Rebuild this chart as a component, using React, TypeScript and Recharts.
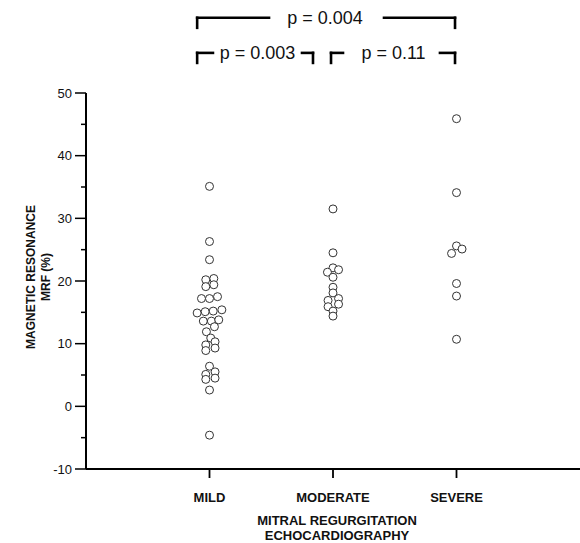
import React from "react";
import {
  ScatterChart,
  Scatter,
  XAxis,
  YAxis,
  ReferenceLine,
  ReferenceDot,
  Label,
} from "recharts";

const CATEGORIES = ["MILD", "MODERATE", "SEVERE"];
const Y_TICKS = [-10, -5, 0, 5, 10, 15, 20, 25, 30, 35, 40, 45, 50];

const MILD_VALUES = [
  35.1, 26.3, 23.4, 20.2, 19.1, 20.4, 19.4, 17.2, 17.2, 17.5, 14.9, 15.1, 15.2,
  15.4, 13.6, 13.6, 13.8, 12.7, 11.9, 10.9, 10.3, 9.8, 9.3, 8.9, 6.4, 5.5, 5.1,
  4.3, 4.5, 2.6, -4.6,
];
const MILD_JITTER = [
  0, 0, 0, -0.03, -0.03, 0.035, 0.035, -0.065, 0, 0.065, -0.1, -0.035, 0.03,
  0.1, -0.05, 0.015, 0.075, 0.04, -0.025, 0.01, 0.045, -0.03, 0.045, -0.03, 0,
  0.045, -0.03, -0.03, 0.045, 0, 0,
];
const MODERATE_VALUES = [
  31.5, 24.5, 22.1, 21.8, 21.4, 20.6, 19.0, 18.1, 17.2, 16.9, 16.3, 15.9, 15.2,
  14.4,
];
const MODERATE_JITTER = [
  0, 0, 0, 0.045, -0.045, 0, 0, 0, 0.045, -0.04, 0.045, -0.04, 0, 0,
];
const SEVERE_VALUES = [45.9, 34.1, 25.6, 25.1, 24.4, 19.6, 17.6, 10.7];
const SEVERE_JITTER = [0, 0, 0, 0.045, -0.04, 0, 0, 0];

const P_LABELS = ["p = 0.004", "p = 0.003", "p = 0.11"];

const BRACKETS = [
  { label: P_LABELS[0], from: 0.9, to: 2.988, gap: [1.482, 2.413], cx: 1.935, level: 62 },
  { label: P_LABELS[1], from: 0.9, to: 1.838, gap: [1.028, 1.749], cx: 1.389, level: 56.4 },
  { label: P_LABELS[2], from: 1.984, to: 2.988, gap: [2.081, 2.866], cx: 2.49, level: 56.4 },
];
const DROP = 1.6;

const groups = [
  { values: MILD_VALUES, jitter: MILD_JITTER },
  { values: MODERATE_VALUES, jitter: MODERATE_JITTER },
  { values: SEVERE_VALUES, jitter: SEVERE_JITTER },
];

const points = groups.flatMap((g, gi) =>
  g.values.map((v, i) => ({ x: gi + 1 + g.jitter[i], y: v }))
);

const FONT = "'Liberation Sans', Arial, sans-serif";

const YTick = (props: any) => {
  const { x, y, payload } = props;
  const major = payload.value % 10 === 0;
  return (
    <g>
      <line x1={x - (major ? 11 : 5)} x2={x} y1={y} y2={y} stroke="#000" strokeWidth={1.5} />
      {major && (
        <text x={x - 14} y={y} dy="0.35em" textAnchor="end" fontSize={13} fontFamily={FONT} fill="#111">
          {payload.value}
        </text>
      )}
    </g>
  );
};

const XTick = (props: any) => {
  const { x, y, payload } = props;
  return (
    <g>
      <line x1={x} x2={x} y1={y} y2={y + 9} stroke="#000" strokeWidth={1.8} />
      <text x={x} y={y + 33} textAnchor="middle" fontSize={13} fontWeight="bold" fontFamily={FONT} fill="#111">
        {CATEGORIES[payload.value - 1]}
      </text>
    </g>
  );
};

const XLabel = (props: any) => {
  const vb = props.viewBox || {};
  const cx = vb.x + vb.width / 2 + 4;
  const top = vb.y;
  return (
    <g>
      <text x={cx} y={top + 56} textAnchor="middle" fontSize={13} fontWeight="bold" fontFamily={FONT} fill="#111">
        MITRAL REGURGITATION
      </text>
      <text x={cx} y={top + 71} textAnchor="middle" fontSize={13} fontWeight="bold" fontFamily={FONT} fill="#111">
        ECHOCARDIOGRAPHY
      </text>
    </g>
  );
};

const YLabel = (props: any) => {
  const vb = props.viewBox || {};
  const cy = vb.y + vb.height / 2 - 4;
  const x1 = 31;
  const x2 = 46;
  return (
    <g>
      <text x={x1} y={cy} transform={`rotate(-90, ${x1}, ${cy})`} dy="0.35em" textAnchor="middle" fontSize={12} fontWeight="bold" fontFamily={FONT} fill="#111">
        MAGNETIC RESONANCE
      </text>
      <text x={x2} y={cy} transform={`rotate(-90, ${x2}, ${cy})`} dy="0.35em" textAnchor="middle" fontSize={12} fontWeight="bold" fontFamily={FONT} fill="#111">
        MRF (%)
      </text>
    </g>
  );
};

const Circle = (props: any) => {
  const { cx, cy } = props;
  return <circle cx={cx} cy={cy} r={4} fill="#fff" stroke="#333" strokeWidth={1} />;
};

export default function App() {
  const lineProps = { stroke: "#000", strokeWidth: 2.6, ifOverflow: "visible" as const, strokeLinecap: "square" as const };
  return (
    <div style={{ width: 580, height: 543 }}>
      <style>{"body{margin:0}"}</style>
      <ScatterChart width={580} height={543} margin={{ top: 93, right: 0, bottom: 0, left: 0 }}>
        <XAxis
          type="number"
          dataKey="x"
          domain={[0, 4]}
          ticks={[1, 2, 3]}
          interval={0}
          height={74}
          tickSize={0}
          tickMargin={0}
          tick={<XTick />}
          axisLine={{ stroke: "#000", strokeWidth: 2 }}
          tickLine={false}
        >
          <Label content={<XLabel />} />
        </XAxis>
        <YAxis
          type="number"
          dataKey="y"
          domain={[-10, 50]}
          ticks={Y_TICKS}
          interval={0}
          width={86}
          tickSize={0}
          tickMargin={0}
          tick={<YTick />}
          axisLine={{ stroke: "#000", strokeWidth: 2 }}
          tickLine={false}
        >
          <Label content={<YLabel />} />
        </YAxis>
        <Scatter data={points} shape={<Circle />} isAnimationActive={false} />
        {BRACKETS.map((b, i) => (
          <React.Fragment key={i}>
            <ReferenceLine {...lineProps} segment={[{ x: b.from, y: b.level }, { x: b.gap[0], y: b.level }]} />
            <ReferenceLine {...lineProps} segment={[{ x: b.gap[1], y: b.level }, { x: b.to, y: b.level }]} />
            <ReferenceLine {...lineProps} segment={[{ x: b.from, y: b.level }, { x: b.from, y: b.level - DROP }]} />
            <ReferenceLine {...lineProps} segment={[{ x: b.to, y: b.level }, { x: b.to, y: b.level - DROP }]} />
            <ReferenceDot
              x={b.cx}
              y={b.level}
              r={0}
              fill="none"
              stroke="none"
              ifOverflow="visible"
              label={{ value: b.label, position: "center", fontSize: 18, fill: "#111", fontFamily: FONT }}
            />
          </React.Fragment>
        ))}
      </ScatterChart>
    </div>
  );
}
